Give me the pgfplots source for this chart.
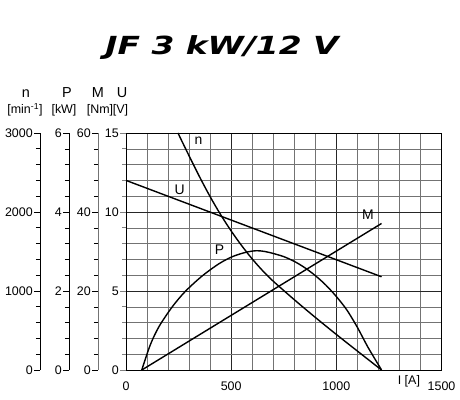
\documentclass[border=0pt]{standalone}
\usepackage{fontspec}
\setmainfont{Liberation Sans}
\newfontfamily\titlefont{DejaVu Sans}
\usepackage{graphicx}
\usepackage{pgfplots}
\pgfplotsset{compat=1.18}
\usepackage{pgfplotstable}

% characteristic curves (I in A)
\pgfplotstableread{
I    n
247  3000
300  2710
350  2444
400  2194
450  1966
500  1760
550  1574
600  1406
650  1256
700  1124
800  890
900  666
1000 450
1100 240
1215 0
}\ndata
\pgfplotstableread{
I    P
75   0
115  0.63
157  1.10
220  1.60
282  1.99
362  2.38
442  2.69
506  2.87
570  2.98
620  3.02
660  3.00
700  2.95
750  2.87
800  2.75
850  2.59
900  2.39
950  2.15
1000 1.86
1050 1.52
1100 1.08
1150 0.58
1215 0
}\Pdata
\pgfplotstableread{
I    M
75   0
1215 37.1
}\Mdata
\pgfplotstableread{
I    U
0    12
1215 5.9
}\Udata

\tikzset{ticklbl/.style={font=\fontsize{12.5}{14}\selectfont}}
\pgfplotsset{
  sideaxis/.style={
    scale only axis, width=0.1bp, height=237bp,
    anchor=south west,
    hide x axis, axis y line*=left,
    xmin=0, xmax=1, ymin=0,
    tick align=outside,
    major tick length=6bp, minor tick length=4bp,
    minor y tick num=4,
    axis line style={line width=0.8bp},
    every tick/.style={line width=0.6bp},
    yticklabel style={ticklbl, inner sep=1bp},
    /pgf/number format/assume math mode=true,
    /pgf/number format/1000 sep={},
  },
}

\begin{document}
\begin{tikzpicture}
\useasboundingbox (0bp,0bp) rectangle (460bp,400bp);

\node[font=\titlefont\bfseries\itshape\fontsize{25}{28}\selectfont] at (222bp,352bp)
  {\scalebox{1.32}[1]{JF 3 kW/12 V}};

% scale headers
\begin{scope}[font=\fontsize{14.5}{16}\selectfont]
\node[anchor=base] at (26bp,302bp) {n};
\node[anchor=base] at (67bp,302bp) {P};
\node[anchor=base] at (98bp,302bp) {M};
\node[anchor=base] at (122bp,302bp) {U};
\end{scope}
\begin{scope}[font=\fontsize{12.5}{13}\selectfont, inner sep=0pt]
\node[anchor=base] at (25bp,286.5bp) {[min\textsuperscript{-1}]};
\node[anchor=base] at (64bp,286.5bp) {[kW]};
\node[anchor=base] at (100bp,286.5bp) {[Nm]};
\node[anchor=base] at (120.5bp,286.5bp) {[V]};
\end{scope}

% extra ordinate scales
\begin{axis}[sideaxis, at={(40bp,30bp)}, ymax=3000, ytick={0,1000,2000,3000}]
\end{axis}
\begin{axis}[sideaxis, at={(69bp,30bp)}, ymax=6, ytick={0,2,4,6}]
\end{axis}
\begin{axis}[sideaxis, at={(98bp,30bp)}, ymax=60, ytick={0,20,40,60},
  axis line style={line width=0.8bp, draw=black!55}]
\end{axis}

% main chart (U scale)
\begin{axis}[
  at={(126bp,30bp)}, anchor=south west,
  scale only axis, width=315.5bp, height=237bp,
  xmin=0, xmax=1500, ymin=0, ymax=15,
  xtick={0,500,1000,1500}, ytick={0,5,10,15},
  minor x tick num=4, minor y tick num=4,
  grid=both,
  major grid style={line width=0.6bp, draw=black!85},
  minor grid style={line width=0.5bp, draw=black!55},
  axis line style={line width=0.8bp},
  xtick pos=bottom, ytick pos=left,
  tick align=outside,
  major tick length=6bp, minor tick length=4bp,
  xtick style={draw=none},
  ytick style={line width=0.6bp},
  xticklabel style={ticklbl, yshift=-2bp},
  yticklabel style={ticklbl, inner sep=1bp},
  /pgf/number format/assume math mode=true,
  /pgf/number format/1000 sep={},
  clip=false,
]
\addplot[black, line width=1.4bp, smooth] table[x=I, y expr=\thisrow{n}/200] {\ndata};
\addplot[black, line width=1.4bp, smooth] table[x=I, y expr=\thisrow{P}*2.5] {\Pdata};
\addplot[black, line width=1.4bp] table[x=I, y expr=\thisrow{M}/4] {\Mdata};
\addplot[black, line width=1.4bp] table[x=I, y=U] {\Udata};
\begin{scope}[font=\fontsize{14}{16}\selectfont]
\node at (axis cs:345,14.5) {n};
\node at (axis cs:255,11.4) {U};
\node at (axis cs:445,7.6) {P};
\node at (axis cs:1150,9.8) {M};
\end{scope}
\node[ticklbl, anchor=north, yshift=-2bp] at (axis cs:1345,0) {I [A]};
\end{axis}
\end{tikzpicture}
\end{document}
